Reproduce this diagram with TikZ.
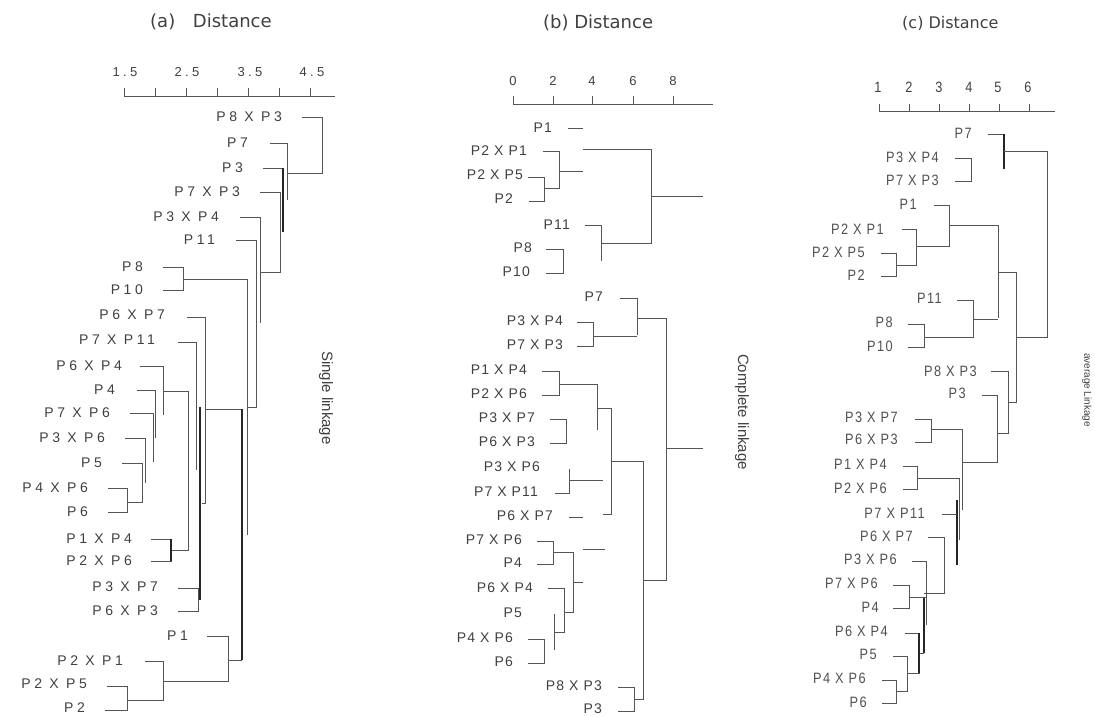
\documentclass[tikz,border=0pt]{standalone}
\usepackage{fontspec}
\setmainfont{Liberation Sans}
\newfontfamily\fontLA[LetterSpace=25]{Liberation Sans}
\newfontfamily\fontLB[LetterSpace=8]{Liberation Sans}
\newfontfamily\fontLC[FakeStretch=0.85,LetterSpace=10]{Liberation Sans}
\newfontfamily\fontTT{DejaVu Sans}
\definecolor{ln}{HTML}{555555}
\definecolor{tx}{HTML}{404040}
\definecolor{txc}{HTML}{505050}
\tikzset{
  la/.style={anchor=east,inner sep=0pt,text=tx,font=\fontLA\fontsize{14}{16}\selectfont},
  lb/.style={anchor=east,inner sep=0pt,text=tx,font=\fontLB\fontsize{14}{16}\selectfont},
  lc/.style={anchor=east,inner sep=0pt,text=txc,font=\fontLC\fontsize{15}{17}\selectfont},
  tick/.style={inner sep=0pt,text=tx},
  ttl/.style={anchor=west,inner sep=0pt,text=tx,font=\fontTT\fontsize{18}{20}\selectfont},
  side/.style={inner sep=0pt,text=tx,rotate=-90,font=\fontsize{15}{17}\selectfont},
  tr/.style={draw=ln,line width=1pt},
  tk/.style={draw=black!85,line width=1.2pt},
}
\begin{document}
\begin{tikzpicture}[x=1pt,y=-1pt]
\useasboundingbox[fill=white] (0,0) rectangle (1095,717);

% ================= Panel (a) =================
\node[ttl] (ta) at (150,22) {(a)\hspace{12pt} Distance};
\draw[tr] (124,96) -- (335,96);
\foreach \x in {124,155,186,217,248,279,310} \draw[tr] (\x,88) -- (\x,96);
\foreach \x/\t [count=\i] in {125/1.5,187/2.5,250/3.5,312/4.5}
  \node[tick,font=\fontLA\fontsize{13}{15}\selectfont] (axa\i) at (\x,72) {\t};
\node[side] (sa) at (326,398) {Single linkage};

\node[la] (a1) at (282,117) {P8 X P3};
\node[la] (a2) at (248,143) {P7};
\node[la] (a3) at (243,168) {P3};
\node[la] (a4) at (240,192) {P7 X P3};
\node[la] (a5) at (219,217) {P3 X P4};
\node[la] (a6) at (215,240) {P11};
\node[la] (a7) at (143,267) {P8};
\node[la] (a8) at (143,290) {P10};
\node[la] (a9) at (165,315) {P6 X P7};
\node[la] (a10) at (155,340) {P7 X P11};
\node[la] (a11) at (122,366) {P6 X P4};
\node[la] (a12) at (115,390) {P4};
\node[la] (a13) at (110,413) {P7 X P6};
\node[la] (a14) at (105,438) {P3 X P6};
\node[la] (a15) at (102,463) {P5};
\node[la] (a16) at (88,488) {P4 X P6};
\node[la] (a17) at (88,512) {P6};
\node[la] (a18) at (132,539) {P1 X P4};
\node[la] (a19) at (132,561) {P2 X P6};
\node[la] (a20) at (158,587) {P3 X P7};
\node[la] (a21) at (158,611) {P6 X P3};
\node[la] (a22) at (188,636) {P1};
\node[la] (a23) at (123,661) {P2 X P1};
\node[la] (a24) at (87,684) {P2 X P5};
\node[la] (a25) at (85,708) {P2};

\draw[tr] (302,117) -| (322,173) -- (288,173);
\draw[tr] (270,143) -| (287,200);
\draw[tr] (263,168) -- (283,168);
\draw[tk] (283,168) -- (283,232);
\draw[tr] (260,192) -| (280,272) -- (260,272);
\draw[tr] (240,217) -| (260,323);
\draw[tr] (236,240) -| (256,407) -- (247,407);
\draw[tr] (163,267) -| (183,290) -- (163,290);
\draw[tr] (183,279) -| (247,535);
\draw[tr] (205,409) -- (242,409);
\draw[tk] (242,409) -- (242,660);
\draw[tr] (187,317) -| (205,503) -- (202,503);
\draw[tr] (178,342) -| (196,470);
\draw[tk] (200,407) -- (200,600);
\draw[tr] (178,588) -| (198,611) -- (178,611);
\draw[tr] (140,366) -| (163,415);
\draw[tr] (137,390) -| (155,438);
\draw[tr] (163,391) -| (188,550) -- (171,550);
\draw[tr] (130,413) -| (153,462);
\draw[tr] (125,438) -| (145,483);
\draw[tr] (122,463) -| (142,502) -- (127,502);
\draw[tr] (108,488) -| (127,512) -- (108,512);
\draw[tr] (151,539) -| (171,561) -- (151,561);
\draw[tk] (171,539) -- (171,561);
\draw[tr] (207,636) -| (228,681) -- (163,681);
\draw[tr] (228,660) -- (242,660);
\draw[tr] (145,661) -| (163,700) -- (127,700);
\draw[tr] (107,686) -| (127,710) -- (105,710);

% ================= Panel (b) =================
\node[ttl] (tb) at (543,23) {(b) Distance};
\draw[tr] (513,104) -- (713,104);
\foreach \x in {513,553,592,633,673} \draw[tr] (\x,96) -- (\x,104);
\foreach \x/\t [count=\i] in {513/0,553/2,592/4,633/6,673/8}
  \node[tick,font=\fontLB\fontsize{13}{15}\selectfont] (axb\i) at (\x,81) {\t};
\node[side] (sb) at (742,412) {Complete linkage};

\node[lb] (b1) at (552,128) {P1};
\node[lb] (b2) at (527,151) {P2 X P1};
\node[lb] (b3) at (523,175) {P2 X P5};
\node[lb] (b4) at (513,199) {P2};
\node[lb] (b5) at (570,225) {P11};
\node[lb] (b6) at (532,248) {P8};
\node[lb] (b7) at (530,272) {P10};
\node[lb] (b8) at (603,297) {P7};
\node[lb] (b9) at (563,321) {P3 X P4};
\node[lb] (b10) at (563,345) {P7 X P3};
\node[lb] (b11) at (527,370) {P1 X P4};
\node[lb] (b12) at (527,394) {P2 X P6};
\node[lb] (b13) at (535,418) {P3 X P7};
\node[lb] (b14) at (535,442) {P6 X P3};
\node[lb] (b15) at (540,467) {P3 X P6};
\node[lb] (b16) at (538,492) {P7 X P11};
\node[lb] (b17) at (553,516) {P6 X P7};
\node[lb] (b18) at (522,540) {P7 X P6};
\node[lb] (b19) at (522,563) {P4};
\node[lb] (b20) at (533,588) {P6 X P4};
\node[lb] (b21) at (522,613) {P5};
\node[lb] (b22) at (513,638) {P4 X P6};
\node[lb] (b23) at (513,662) {P6};
\node[lb] (b24) at (602,686) {P8 X P3};
\node[lb] (b25) at (602,709) {P3};

\draw[tr] (568,128) -- (583,128);
\draw[tr] (583,149) -| (651,243) -- (601,243);
\draw[tr] (651,196) -- (703,196);
\draw[tr] (543,151) -| (559,188) -- (544,188);
\draw[tr] (559,171) -- (583,171);
\draw[tr] (528,177) -| (544,201) -- (529,201);
\draw[tr] (585,225) -| (601,261);
\draw[tr] (546,249) -| (563,273) -- (546,273);
\draw[tr] (620,298) -| (637,335);
\draw[tr] (637,318) -| (666,580) -- (643,580);
\draw[tr] (666,448) -- (703,448);
\draw[tr] (577,322) -| (593,346) -- (577,346);
\draw[tr] (593,336) -- (637,336);
\draw[tr] (542,371) -| (559,395) -- (542,395);
\draw[tr] (559,384) -| (597,430);
\draw[tr] (597,408) -| (611,514) -- (603,514);
\draw[tr] (550,419) -| (566,443) -- (550,443);
\draw[tr] (611,461) -| (643,699) -- (634,699);
\draw[tr] (618,687) -| (634,711) -- (618,711);
\draw[tr] (569,469) -- (569,493) -- (555,493);
\draw[tr] (569,480) -- (603,480);
\draw[tr] (569,517) -- (583,517);
\draw[tr] (537,541) -| (553,564) -- (537,564);
\draw[tr] (553,552) -| (573,612) -- (564,612);
\draw[tr] (583,549) -- (605,549);
\draw[tr] (573,582) -- (583,582);
\draw[tr] (548,588) -| (564,632) -- (554,632);
\draw[tr] (554,614) -- (554,650);
\draw[tr] (528,639) -| (544,663) -- (528,663);

% ================= Panel (c) =================
\node[ttl,font=\fontTT\fontsize{16}{18}\selectfont] (tc) at (902,23) {(c) Distance};
\draw[tr] (879,111) -- (1055,111);
\foreach \x in {879,909,939,969,999,1029} \draw[tr] (\x,104) -- (\x,111);
\foreach \x/\t [count=\i] in {878/1,909/2,939/3,969/4,998/5,1028/6}
  \node[tick,font=\fontLC\fontsize{15}{17}\selectfont] (axc\i) at (\x,87) {\t};
\node[side,font=\fontsize{10}{11}\selectfont] (sc) at (1087,390) {average Linkage};

\node[lc] (c1) at (972,133) {P7};
\node[lc] (c2) at (939,157) {P3 X P4};
\node[lc] (c3) at (939,180) {P7 X P3};
\node[lc] (c4) at (917,204) {P1};
\node[lc] (c5) at (884,229) {P2 X P1};
\node[lc] (c6) at (865,252) {P2 X P5};
\node[lc] (c7) at (865,275) {P2};
\node[lc] (c8) at (942,298) {P11};
\node[lc] (c9) at (893,322) {P8};
\node[lc] (c10) at (893,346) {P10};
\node[lc] (c11) at (977,371) {P8 X P3};
\node[lc] (c12) at (966,393) {P3};
\node[lc] (c13) at (898,417) {P3 X P7};
\node[lc] (c14) at (898,439) {P6 X P3};
\node[lc] (c15) at (887,464) {P1 X P4};
\node[lc] (c16) at (887,488) {P2 X P6};
\node[lc] (c17) at (925,513) {P7 X P11};
\node[lc] (c18) at (913,536) {P6 X P7};
\node[lc] (c19) at (897,559) {P3 X P6};
\node[lc] (c20) at (878,583) {P7 X P6};
\node[lc] (c21) at (879,607) {P4};
\node[lc] (c22) at (888,631) {P6 X P4};
\node[lc] (c23) at (877,654) {P5};
\node[lc] (c24) at (866,678) {P4 X P6};
\node[lc] (c25) at (867,702) {P6};

\draw[tr] (988,134) -- (1004,134);
\draw[tk] (1004,134) -- (1004,169);
\draw[tr] (1004,151) -| (1047,337) -- (1016,337);
\draw[tr] (955,158) -| (971,181) -- (955,181);
\draw[tr] (934,205) -| (949,246) -- (916,246);
\draw[tr] (949,225) -| (998,318);
\draw[tr] (998,272) -| (1016,402) -- (1008,402);
\draw[tr] (902,229) -| (916,265) -- (896,265);
\draw[tr] (881,253) -| (896,276) -- (881,276);
\draw[tr] (957,300) -| (973,337) -- (924,337);
\draw[tr] (973,319) -- (998,319);
\draw[tr] (908,324) -| (924,347) -- (908,347);
\draw[tr] (991,371) -| (1008,433) -- (998,433);
\draw[tr] (982,395) -| (997,462) -- (962,462);
\draw[tr] (915,419) -| (931,442) -- (915,442);
\draw[tr] (931,429) -| (962,510);
\draw[tr] (903,466) -| (917,489) -- (903,489);
\draw[tr] (917,478) -| (959,540);
\draw[tk] (957,500) -- (957,565);
\draw[tr] (942,514) -- (957,514);
\draw[tr] (928,537) -| (944,593) -- (924,593);
\draw[tr] (912,561) -| (926,625);
\draw[tk] (924,597) -- (924,653);
\draw[tr] (924,653) -- (919,653);
\draw[tr] (893,585) -| (909,608) -- (893,608);
\draw[tr] (909,597) -- (926,597);
\draw[tr] (905,633) -| (919,673) -- (907,673);
\draw[tk] (919,633) -- (919,673);
\draw[tr] (893,656) -| (907,691) -- (896,691);
\draw[tr] (882,680) -| (896,703) -- (882,703);
\end{tikzpicture}
\end{document}
